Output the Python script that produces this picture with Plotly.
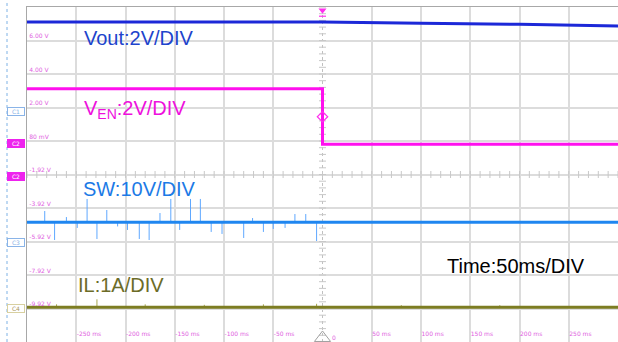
import plotly.graph_objects as go

# ---------------- data (time in ms, screen values in volts of the 2 V/div grid) ----------------
t_vout = [-300, 0, 100, 200, 300]
vout = [7.10, 7.10, 7.03, 6.97, 6.86]

t_ven = [-300, 0, 0, 300]
ven = [3.12, 3.12, -0.20, -0.20]

t_sw = [-300, 300]
sw_base = -4.85
sw_spike_t = [-282, -272, -260, -249, -239, -229, -219, -208, -198, -186, -176, -165, -154,
              -145, -134, -124, -113, -102, -80, -71, -60, -50, -38, -28, -17, -6]
sw_spike_v = [-4.18, -5.91, -4.54, -5.19, -3.46, -5.85, -4.12, -5.10, -5.31, -5.85, -5.91, -4.30, -3.46,
              -5.31, -3.46, -3.46, -5.43, -5.55, -5.79, -4.60, -5.43, -5.25, -5.19, -4.36, -4.36, -5.97]

t_il = [-300, 300]
il_base = -9.93
il_spike_t = [-270, -229, -180, -120, -60, -6, 80, 180]
il_spike_v = [-9.75, -9.45, -9.75, -9.78, -9.75, -9.72, -9.80, -9.80]

y_tick_vals = [-12, -10, -8, -6, -4, -2, 0, 2, 4, 6]
y_tick_text = ["-11.92 V", "-9.92 V", "-7.92 V", "-5.92 V", "-3.92 V", "-1.92 V",
               "80 mV", "2.00 V", "4.00 V", "6.00 V"]
x_tick_vals = [-250, -200, -150, -100, -50, 50, 100, 150, 200, 250]
x_tick_text = ["-250 ms", "-200 ms", "-150 ms", "-100 ms", "-50 ms",
               "50 ms", "100 ms", "150 ms", "200 ms", "250 ms"]

trig_level = 1.45

# ---------------- figure ----------------
W, H = 618, 342
ML, MT = 27, 7
PW, PH = W - ML, H - MT


def px(xp):
    return (xp - ML) / PW


def py(yp):
    return (H - yp) / PH


fig = go.Figure()

# centre graticule tick marks
fig.add_trace(go.Scatter(
    x=[v for v in range(-300, 301, 10)], y=[-2] * 61, mode="markers",
    marker=dict(symbol="line-ns", size=5, line=dict(width=1, color="#c8c8c8")),
    hoverinfo="skip", showlegend=False))
fig.add_trace(go.Scatter(
    x=[0] * 51, y=[-12 + 0.4 * i for i in range(51)], mode="markers",
    marker=dict(symbol="line-ew", size=5, line=dict(width=1, color="#c8c8c8")),
    hoverinfo="skip", showlegend=False))

# IL
il_x, il_y = [], []
for t, v in zip(il_spike_t, il_spike_v):
    il_x += [t, t, None]
    il_y += [il_base, v, None]
fig.add_trace(go.Scatter(x=il_x, y=il_y, mode="lines",
                         line=dict(color="#a8a850", width=1), showlegend=False, hoverinfo="skip"))
fig.add_trace(go.Scatter(x=t_il, y=[il_base] * len(t_il), mode="lines",
                         line=dict(color="#7d7d22", width=3), showlegend=False))

# SW
sw_x, sw_y = [], []
for t, v in zip(sw_spike_t, sw_spike_v):
    sw_x += [t, t, None]
    sw_y += [sw_base, v, None]
fig.add_trace(go.Scatter(x=sw_x, y=sw_y, mode="lines",
                         line=dict(color="#5fa8ff", width=1), showlegend=False, hoverinfo="skip"))
fig.add_trace(go.Scatter(x=t_sw, y=[sw_base] * len(t_sw), mode="lines",
                         line=dict(color="#1f86f0", width=3), showlegend=False))

# VEN
fig.add_trace(go.Scatter(x=t_ven, y=ven, mode="lines",
                         line=dict(color="#ff10ee", width=3), showlegend=False))
# Vout
fig.add_trace(go.Scatter(x=t_vout, y=vout, mode="lines",
                         line=dict(color="#1c28d8", width=3), showlegend=False))

# trigger level marker
fig.add_trace(go.Scatter(x=[0], y=[trig_level], mode="markers",
                         marker=dict(symbol="diamond-open", size=8, color="#ff30ee", line=dict(width=1.2)),
                         showlegend=False, cliponaxis=False))
# trigger position marker (top)
fig.add_trace(go.Scatter(x=[0], y=[7.80], mode="markers",
                         marker=dict(symbol="triangle-down", size=7, color="#ff30ee"),
                         showlegend=False, cliponaxis=False))
fig.add_trace(go.Scatter(x=[0], y=[7.45], mode="markers",
                         marker=dict(symbol="line-ew", size=5, line=dict(width=1.2, color="#ff30ee")),
                         showlegend=False, cliponaxis=False))
# bottom centre marker
fig.add_trace(go.Scatter(x=[0], y=[-11.76], mode="markers",
                         marker=dict(symbol="triangle-up-open", size=14, color="#a0a0a0", line=dict(width=1)),
                         showlegend=False, cliponaxis=False))

shapes = [
    # dotted vertical centre line
    dict(type="line", xref="x", yref="paper", x0=0, x1=0, y0=0, y1=1,
         line=dict(color="#c0c0c0", width=1, dash="dot"), layer="between"),
    # dashed line in left margin
    dict(type="line", xref="paper", yref="paper", x0=px(7), x1=px(7), y0=0, y1=py(0),
         line=dict(color="#7fb2e5", width=1, dash="dot")),
]

annotations = []
label_font = "Liberation Sans"
annotations.append(dict(xref="paper", yref="paper", x=px(82), y=py(38), xanchor="left", yanchor="middle",
                        text="Vout:2V/DIV", showarrow=False,
                        font=dict(family=label_font, size=20, color="#1e44cc")))
annotations.append(dict(xref="paper", yref="paper", x=px(82), y=py(110), xanchor="left", yanchor="middle",
                        text="V<sub>EN</sub>:2V/DIV", showarrow=False,
                        font=dict(family=label_font, size=20, color="#ee10dd")))
annotations.append(dict(xref="paper", yref="paper", x=px(81), y=py(189), xanchor="left", yanchor="middle",
                        text="SW:10V/DIV", showarrow=False,
                        font=dict(family=label_font, size=20, color="#1c7ae6")))
annotations.append(dict(xref="paper", yref="paper", x=px(76), y=py(285), xanchor="left", yanchor="middle",
                        text="IL:1A/DIV", showarrow=False,
                        font=dict(family=label_font, size=20, color="#6c6c28")))
annotations.append(dict(xref="paper", yref="paper", x=px(445), y=py(266), xanchor="left", yanchor="middle",
                        text="Time:50ms/DIV", showarrow=False,
                        font=dict(family=label_font, size=20, color="#000000")))
# "0" time label
annotations.append(dict(xref="x", yref="paper", x=0, y=py(337), xanchor="left", yanchor="middle",
                        xshift=7, text="0", showarrow=False,
                        font=dict(family="DejaVu Sans", size=6, color="#e060e0")))

# channel markers
markers = [
    ("C1", 111, "#ffffff", "#8ab4e8", "#8ab4e8"),
    ("C2", 143, "#ee22ee", "#ee22ee", "#ffffff"),
    ("C2", 176, "#ee22ee", "#ee22ee", "#ffffff"),
    ("C3", 243, "#ffffff", "#8ab4e8", "#8ab4e8"),
    ("C4", 308, "#ffffff", "#d8d0a0", "#a89860"),
]
for name, yp, bg, bc, fc in markers:
    annotations.append(dict(xref="paper", yref="paper", x=px(16), y=py(yp), xanchor="center", yanchor="middle",
                            text=name, showarrow=False, bgcolor=bg, bordercolor=bc, borderwidth=1,
                            borderpad=0, width=16, height=7,
                            font=dict(family="DejaVu Sans", size=6, color=fc)))

fig.update_layout(
    width=W, height=H, autosize=False,
    margin=dict(l=ML, r=0, t=MT, b=0, pad=0, autoexpand=False),
    paper_bgcolor="white", plot_bgcolor="white",
    shapes=shapes, annotations=annotations, showlegend=False,
    xaxis=dict(range=[-300, 300], tickvals=x_tick_vals, ticktext=x_tick_text,
               ticklabelposition="inside right", ticks="", automargin=False,
               tickfont=dict(family="DejaVu Sans", size=6, color="#e060e0"),
               showgrid=True, gridcolor="#dcdcdc", gridwidth=1.5, zeroline=False,
               showline=True, linecolor="#a8a8a8", linewidth=1, mirror=True, fixedrange=True),
    yaxis=dict(range=[-12, 8], tickvals=y_tick_vals, ticktext=y_tick_text,
               ticklabelposition="inside top", ticks="", automargin=False,
               tickfont=dict(family="DejaVu Sans", size=6, color="#e060e0"),
               showgrid=True, gridcolor="#dcdcdc", gridwidth=1.5, zeroline=False,
               showline=True, linecolor="#a8a8a8", linewidth=1, fixedrange=True),
)

fig.write_html("out.html", config={"displayModeBar": False},
               post_script="document.body.style.margin='0px';document.body.style.overflow='hidden';")
